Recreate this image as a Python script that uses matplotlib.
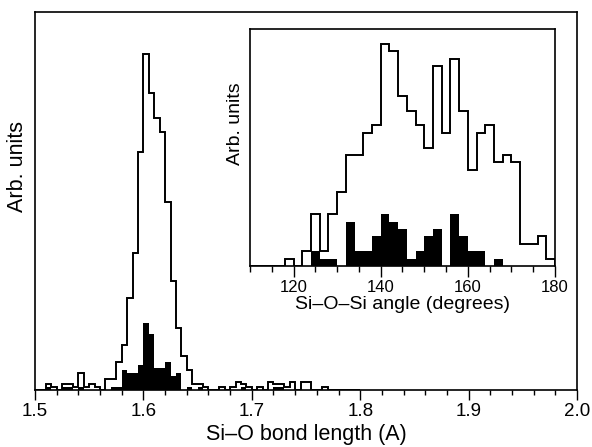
import numpy as np
import matplotlib
matplotlib.use('Agg')
import matplotlib.pyplot as plt
from matplotlib.ticker import MultipleLocator

plt.rcParams['font.family'] = ['Liberation Sans', 'DejaVu Sans']

# ---- Main panel: Si-O bond length histogram (bins of 0.005 A, 1.500 -> 1.800)
bond_start = 1.50
bond_width = 0.005
bond_all = [0, 0, 2, 1, 0, 2, 2, 1, 6, 1, 2, 1, 0, 4, 4,
            10, 16, 33, 49, 85, 120, 106, 97, 92, 67, 39, 22, 12, 7, 2,
            2, 1, 0, 0, 1, 0, 1, 3, 2, 1, 0, 1, 0, 3, 2,
            2, 1, 3, 0, 3, 3, 0, 0, 1, 0, 0, 0, 0, 0, 0]
bond_sub = [0, 0, 1, 0, 0, 1, 1, 0, 1, 0, 0, 0, 0, 0, 1,
            1, 7, 6, 6, 9, 24, 20, 8, 8, 10, 5, 6, 0, 1, 0,
            1, 0, 0, 0, 0, 0, 0, 0, 1, 0, 0, 0, 0, 0, 1,
            1, 0, 0, 0, 0, 0, 0, 0, 0, 0, 0, 0, 0, 0, 0]

# ---- Inset: Si-O-Si angle histogram (bins of 2 degrees, 110 -> 180)
angle_start = 110
angle_width = 2
angle_all = [0, 0, 0, 0, 1, 0, 2, 7, 2, 7, 10, 15, 15, 18, 19,
             30, 29, 23, 21, 19, 16, 27, 18, 28, 21, 13, 18, 19, 14, 15,
             14, 3, 3, 4, 1]
angle_sub = [0, 0, 0, 0, 0, 0, 0, 2, 1, 1, 0, 6, 2, 2, 4,
             7, 6, 5, 1, 2, 4, 5, 0, 7, 4, 2, 2, 0, 1, 0,
             0, 0, 0, 0, 0]

bond_edges = bond_start + bond_width * np.arange(len(bond_all) + 1)
angle_edges = angle_start + angle_width * np.arange(len(angle_all) + 1)

W, H = 592, 447
fig = plt.figure(figsize=(W / 100, H / 100), dpi=100)

# main axes
ax = fig.add_axes([35 / W, 1 - 390 / H, (577 - 35) / W, (390 - 11.7) / H])
ax.stairs(bond_all, bond_edges, color='black', lw=1.4, baseline=0)
ax.stairs(bond_sub, bond_edges, fill=True, color='black', lw=0)
ax.set_xlim(1.5, 2.0)
ax.set_ylim(0, 135)
ax.xaxis.set_major_locator(MultipleLocator(0.1))
ax.xaxis.set_minor_locator(MultipleLocator(0.02))
ax.set_yticks([])
ax.tick_params(axis='x', which='major', direction='out', length=7, width=1,
               labelsize=13.5, pad=2)
ax.tick_params(axis='x', which='minor', direction='out', length=3.5, width=1)
for s in ax.spines.values():
    s.set_linewidth(1.2)
ax.set_xlabel('Si\u2013O bond length (A)', fontsize=15.5, labelpad=3)
ax.set_ylabel('Arb. units', fontsize=15.5)
ax.yaxis.set_label_coords(-0.012, 0.59)

# inset axes
ins = fig.add_axes([250 / W, 1 - 266 / H, (555 - 250) / W, (266 - 29.3) / H])
ins.stairs(angle_all, angle_edges, color='black', lw=1.4, baseline=0)
ins.stairs(angle_sub, angle_edges, fill=True, color='black', lw=0)
ins.set_xlim(110, 180)
ins.set_ylim(0, 32)
ins.xaxis.set_major_locator(MultipleLocator(20))
ins.xaxis.set_minor_locator(MultipleLocator(5))
ins.set_yticks([])
ins.tick_params(axis='x', which='major', direction='out', length=8, width=1,
                labelsize=12, pad=2)
ins.tick_params(axis='x', which='minor', direction='out', length=4, width=1)
for s in ins.spines.values():
    s.set_linewidth(1.2)
ins.set_xlabel('Si\u2013O\u2013Si angle (degrees)', fontsize=14, labelpad=1)
ins.set_ylabel('Arb. units', fontsize=14)
ins.yaxis.set_label_coords(-0.02, 0.6)

fig.savefig('out.png', dpi=100)
